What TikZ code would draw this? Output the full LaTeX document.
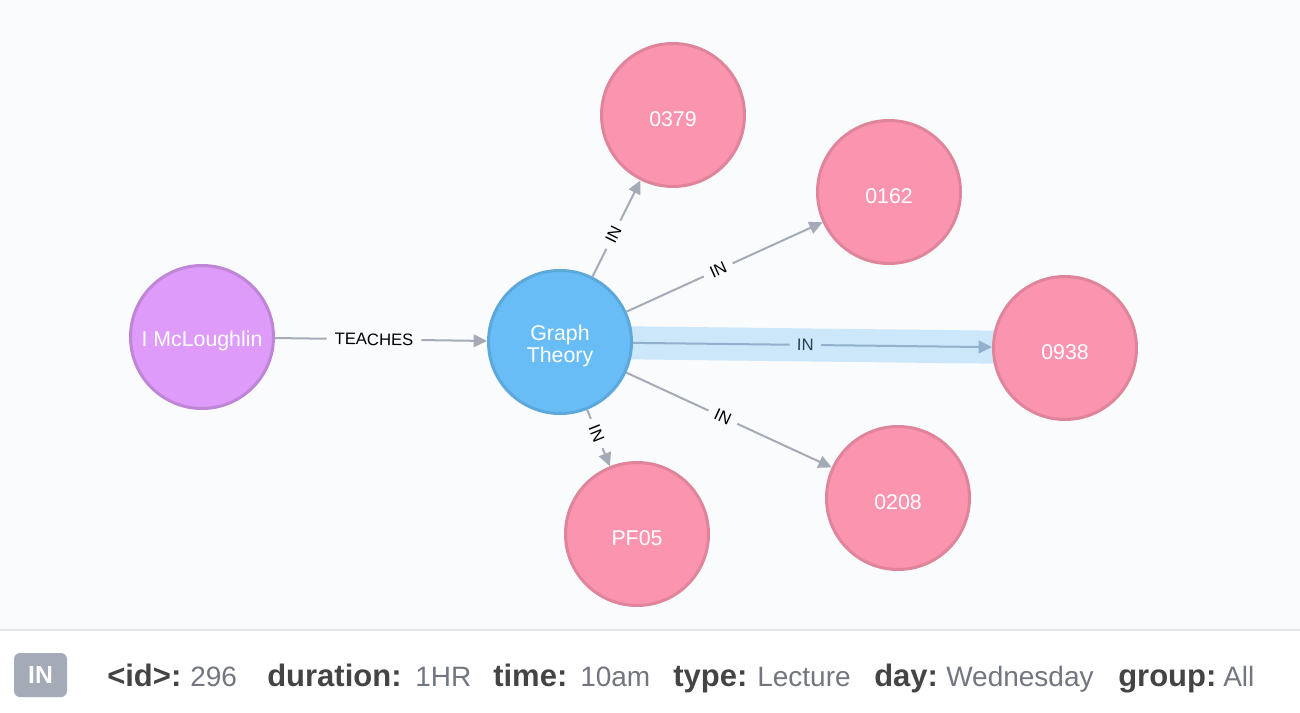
\documentclass[tikz,border=0pt]{standalone}
\usepackage{fontspec}
\setmainfont{Liberation Sans}
\usetikzlibrary{arrows.meta,backgrounds}
\definecolor{bgc}{HTML}{F9FBFD}
\definecolor{sepc}{HTML}{E3E6EB}
\definecolor{edgec}{HTML}{A5ABB6}
\definecolor{hlband}{HTML}{CCE7FA}
\definecolor{hledge}{HTML}{92AFCB}
\definecolor{hltext}{HTML}{2B3E57}
\definecolor{purfill}{HTML}{DE9BF9}
\definecolor{purline}{HTML}{BF85D6}
\definecolor{blufill}{HTML}{68BDF6}
\definecolor{bluline}{HTML}{5CA8DB}
\definecolor{pinkfill}{HTML}{FB95AF}
\definecolor{pinkline}{HTML}{E0849B}
\definecolor{badgec}{HTML}{A5ABB6}
\definecolor{keyc}{HTML}{444444}
\definecolor{valc}{HTML}{717680}
\tikzset{
  nodetext/.style={text=white, font=\fontsize{16}{16.5}\selectfont, align=center,
    inner sep=0pt, yshift=-3.2pt},
  gnode/.style={circle, minimum size=107.25pt, inner sep=0pt, line width=2.25pt,
    label={[nodetext]center:#1}},
  person/.style={gnode={#1}, fill=purfill, draw=purline},
  course/.style={gnode={#1}, fill=blufill, draw=bluline},
  group/.style={gnode={#1}, fill=pinkfill, draw=pinkline},
  edge/.style={draw=edgec, line width=1.5pt, -{Triangle[length=10pt,width=9.5pt]}},
  hledgestyle/.style={draw=hledge, line width=1.5pt, -{Triangle[length=10pt,width=9.5pt]}},
  elabel/.style={sloped, fill=bgc, inner xsep=5.5pt, inner ysep=1pt,
    font=\fontsize{12.5}{13}\selectfont, text=black},
  hllabel/.style={elabel, fill=hlband, text=hltext},
  keytext/.style={anchor=base west, inner sep=0pt, text=keyc, font=\fontsize{23.25}{25}\selectfont\bfseries},
  valtext/.style={anchor=base west, inner sep=0pt, text=valc, font=\fontsize{21}{24}\selectfont},
}
\begin{document}
\begin{tikzpicture}[x=0.75pt, y=-0.75pt]
\useasboundingbox (0,0) rectangle (1300,713);
% nodes
\node[person={I McLoughlin}] (mc) at (202,337) {};
\node[course={Graph\\Theory}] (gt) at (560,342) {};
\node[group={0379}] (a) at (673,115) {};
\node[group={0162}] (b) at (889,192) {};
\node[group={0938}] (c) at (1065,348) {};
\node[group={0208}] (d) at (898,498) {};
\node[group={PF05}] (e) at (637,534) {};
% background and highlight band
\begin{scope}[on background layer]
  \fill[bgc] (0,0) rectangle (1300,630);
  \fill[white] (0,630) rectangle (1300,713);
  \draw[sepc, line width=1.5pt] (0,630) -- (1300,630);
  \draw[hlband, line width=24.75pt] (gt.center) -- (c.center);
\end{scope}
% edges
\draw[edge] (mc) -- node[elabel, inner xsep=6pt, pos=0.467] {TEACHES} (gt);
\draw[edge] (gt) -- node[elabel, pos=0.435] {IN} (a);
\draw[edge] (gt) -- node[elabel, pos=0.468] {IN} (b);
\draw[hledgestyle] (gt) -- node[hllabel, pos=0.48] {IN} (c);
\draw[edge] (gt) -- node[elabel, pos=0.47] {IN} (d);
\draw[edge] (gt) -- node[elabel, pos=0.42] {IN} (e);
% bottom bar
\node[fill=badgec, rounded corners=4.5pt, minimum width=39.75pt, minimum height=33pt,
  inner sep=0pt, text=white, font=\fontsize{18.5}{20}\selectfont\bfseries] (badge) at (40.5,675) {IN};
\node[keytext] (k1) at (107,686) {<id>:};
\node[valtext] (v1) at (190,686) {296};
\node[keytext] (k2) at (267,686) {duration:};
\node[valtext] (v2) at (415,686) {1HR};
\node[keytext] (k3) at (493,686) {time:};
\node[valtext] (v3) at (580,686) {10am};
\node[keytext] (k4) at (673,686) {type:};
\node[valtext] (v4) at (757,686) {Lecture};
\node[keytext] (k5) at (874,686) {day:};
\node[valtext] (v5) at (946,686) {Wednesday};
\node[keytext] (k6) at (1118,686) {group:};
\node[valtext] (v6) at (1223,686) {All};
\end{tikzpicture}
\end{document}
